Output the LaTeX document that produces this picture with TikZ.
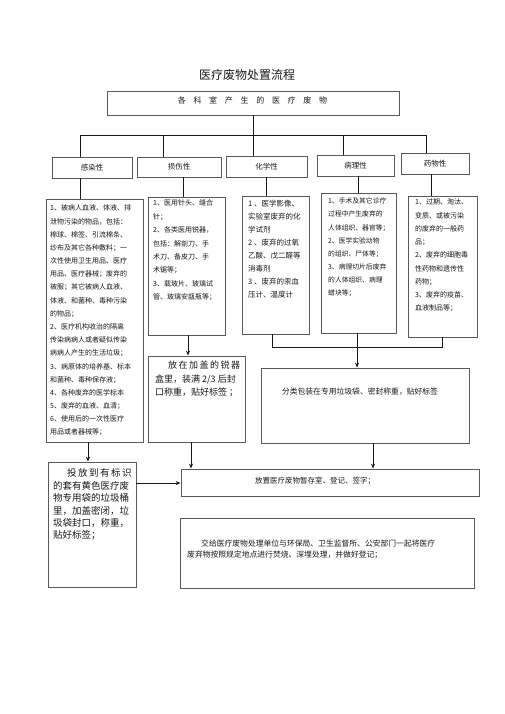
\documentclass[tikz,border=0pt]{standalone}
\usepackage{fontspec}
\setmainfont{Noto Sans CJK SC}
\usetikzlibrary{arrows.meta}
\begin{document}
\begin{tikzpicture}[x=1pt,y=-1pt,
  box/.style={draw=black!65, line width=0.8pt, inner sep=0, anchor=center, text=black!90},
  conn/.style={draw=black!90, line width=0.9pt},
  arr/.style={conn, -{Stealth[length=5pt,width=4pt]}},
  txt/.style={inner sep=0, text=black!90, align=left, anchor=north west},
  cat/.style={box, minimum height=21pt, font=\fontsize{7.5}{9}\selectfont},
]
\useasboundingbox[fill=white] (0,0) rectangle (505,714);

% title and source
\node[text=black!90, font=\fontsize{12}{14}\selectfont] (title) at (247,75) {医疗废物处置流程};
\node[box, minimum width=292pt, minimum height=24pt] (src) at (253,103) {};
\node[txt, anchor=center, font=\fontsize{8}{10}\selectfont] (srctxt) at (252.5,100)
  {各\hspace{7.7pt}科\hspace{7.7pt}室\hspace{7.7pt}产\hspace{7.7pt}生\hspace{7.7pt}的\hspace{7.7pt}医\hspace{7.7pt}疗\hspace{7.7pt}废\hspace{7.7pt}物};

% categories
\node[cat, minimum width=80pt] (inf) at (92,167.5) {感染性};
\node[cat, minimum width=84pt, minimum height=20pt] (inj) at (179,167) {损伤性};
\node[cat, minimum width=81pt] (chem) at (266.5,166.5) {化学性};
\node[cat, minimum width=77pt] (path) at (355.5,165.5) {病理性};
\node[cat, minimum width=68pt] (drug) at (435,163.5) {药物性};

% bus
\coordinate (bL) at (80,135);
\coordinate (bR) at (426,135);
\coordinate (b2) at (163,135);
\coordinate (b4) at (343,135);
\draw[conn] (src.south) -- (src.south |- chem.north);
\draw[conn] (bL) -- (bR);
\draw[conn] (bL) -- (bL |- inf.north);
\draw[conn] (b2) -- (b2 |- inj.north);
\draw[conn] (b4) -- (b4 |- path.north);
\draw[conn] (bR) -- (bR |- drug.north);

% description boxes
\node[box, minimum width=97pt, minimum height=243pt] (infd) at (94.5,320.5) {};
\node[box, minimum width=77pt, minimum height=138pt] (injd) at (186.5,266) {};
\node[box, minimum width=67pt, minimum height=138pt] (chemd) at (275.5,265) {};
\node[box, minimum width=75pt, minimum height=140pt] (pathd) at (358.5,263) {};
\node[box, minimum width=69pt, minimum height=141pt] (drugd) at (442.5,266.5) {};

\draw[conn] (inf.south -| bL) -- (bL |- infd.north);
\draw[conn] (inj.south -| 183,0) -- (injd.north -| 183,0);
\draw[conn] (chem.south -| 266,0) -- (chemd.north -| 266,0);
\draw[conn] (path.south -| 358,0) -- (pathd.north -| 358,0);
\draw[conn] (drug.south -| 431,0) -- (drugd.north -| 431,0);

\node[txt, font=\fontsize{7}{13.18}\selectfont] (infdt) at (50,204.8) {%
1、被病人血液、体液、排\\
泄物污染的物品，包括：\\
棉球、棉签、引流棉条、\\
纱布及其它各种敷料；一\\
次性使用卫生用品、医疗\\
用品、医疗器械；废弃的\\
被服；其它被病人血液、\\
体液、和菌种、毒种污染\\
的物品；\\
2、医疗机构收治的隔离\\
传染病病人或者疑似传染\\
病病人产生的生活垃圾；\\
3、病原体的培养基、标本\\
和菌种、毒种保存液；\\
4、各种废弃的医学标本\\
5、废弃的血液、血清；\\
6、使用后的一次性医疗\\
用品或者器械等；};

\node[txt, font=\fontsize{7}{13.4}\selectfont] (injdt) at (153,199.8) {%
1、医用针头、缝合\\
针；\\
2、各类医用锐器，\\
包括：解剖刀、手\\
术刀、备皮刀、手\\
术锯等；\\
3、载玻片、玻璃试\\
管、玻璃安瓿瓶等；};

\node[txt, font=\fontsize{7.5}{13.1}\selectfont] (chemdt) at (248,199.6) {%
1 、医学影像、\\
实验室废弃的化\\
学试剂\\
2 、废弃的过氧\\
乙酸、戊二醛等\\
消毒剂\\
3 、废弃的汞血\\
压计、温度计};

\node[txt, font=\fontsize{6.8}{13.1}\selectfont] (pathdt) at (328,197.9) {%
1、手术及其它诊疗\\
过程中产生废弃的\\
人体组织、器官等；\\
2、医学实验动物\\
的组织、尸体等；\\
3、病理切片后废弃\\
的人体组织、病理\\
蜡块等；};

\node[txt, font=\fontsize{7}{13.25}\selectfont] (drugdt) at (415,198.8) {%
1、过期、淘汰、\\
变质、或被污染\\
的废弃的一般药\\
品；\\
2、废弃的细胞毒\\
性药物和遗传性\\
药物；\\
3、废弃的疫苗、\\
血液制品等；};

% second level
\node[box, minimum width=208pt, minimum height=75pt] (sort) at (365,405.5) {};
\node[txt, anchor=center, font=\fontsize{7.8}{9}\selectfont] (sorttxt) at (360,392) {分类包装在专用垃圾袋、密封称重，贴好标签};
\draw[conn] (chemd.south -| 272,0) -- (272,347) coordinate (j1) -- (442,347) coordinate (j2) -- (drugd.south -| 442,0);
\draw[arr] (pathd.south -| 357,0) -- (sort.north -| 357,0);

\node[box, minimum width=97pt, minimum height=86pt] (sharp) at (196.5,399) {};
\node[txt, font=\fontsize{9}{13.5}\selectfont] (sharptxt) at (155,361) {%
\hspace{13pt}放\,在\,加\,盖\,的\,锐\,器\\
盒里，装满 2/3 后封\\
口称重，贴好标签 ；};
\draw[arr] (injd.south -| 188,0) -- (sharp.north -| 188,0);

\node[box, minimum width=88pt, minimum height=125pt] (put) at (92,524.5) {};
\node[txt, font=\fontsize{9.5}{12.4}\selectfont] (puttxt) at (53,468.7) {%
\hspace{14pt}投\hspace{1.5pt}放\hspace{1.5pt}到\hspace{1.5pt}有\hspace{1.5pt}标\hspace{1.5pt}识\\
的套有黄色医疗废\\
物专用袋的垃圾桶\\
里，加盖密闭，垃\\
圾袋封口，称重，\\
贴好标签；};
\draw[arr] (infd.south -| 88,0) -- (put.north -| 88,0);

\node[box, minimum width=298pt, minimum height=27pt] (store) at (330,482.5) {};
\node[txt, anchor=center, font=\fontsize{7.5}{9}\selectfont] (storetxt) at (315,481) {放置医疗废物暂存室、登记、签字；};
\draw[arr] (sharp.south -| 191,0) -- (store.north -| 191,0);
\draw[arr] (sort.south -| 373,0) -- (store.north -| 373,0);
\draw[arr] (put.east |- 0,483) -- (store.west |- 0,483);

\node[box, minimum width=294pt, minimum height=70pt] (hand) at (327,553) {};
\node[txt, font=\fontsize{7.8}{11}\selectfont] (handtxt) at (187,539.5) {%
\hspace{14pt}交给医疗废物处理单位与环保局、卫生监督所、公安部门一起将医疗\\
废弃物按照规定地点进行焚烧、深埋处理，并做好登记；};
\end{tikzpicture}
\end{document}
